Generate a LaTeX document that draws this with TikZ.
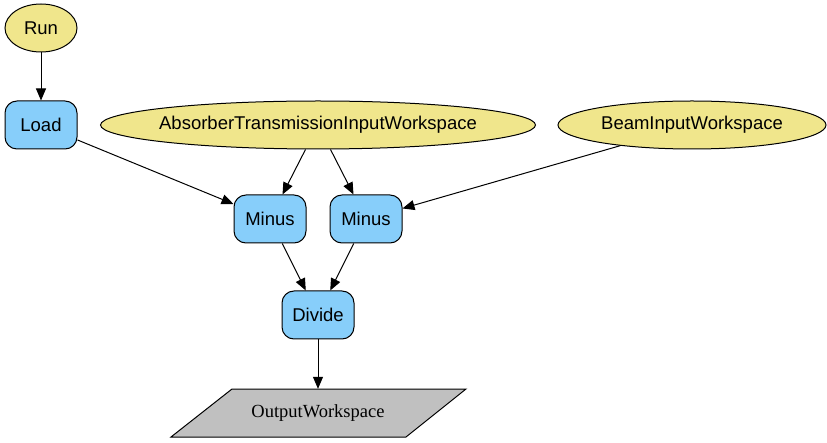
\documentclass[tikz,border=0pt]{standalone}
\usepackage{fontspec}
\setmainfont{Liberation Sans}
\newfontfamily\serifws{Liberation Serif}
\usetikzlibrary{arrows.meta, shapes.geometric}
\definecolor{khaki}{HTML}{F0E68C}
\definecolor{skyblue}{HTML}{87CEFA}
\definecolor{wsgray}{HTML}{C0C0C0}
\begin{document}
\begin{tikzpicture}[x=1pt,y=-1pt]
		\tikzstyle{every node} = [font = \fontsize{18.5}{21}\selectfont]
		\tikzstyle{prop} = [draw, line width=1pt, ellipse, fill=khaki, minimum height=48pt, inner sep=0pt]
		\tikzstyle{alg} = [draw, line width=1pt, rectangle, rounded corners=12pt, fill=skyblue, minimum width=72pt, minimum height=48pt, inner sep=0pt]
		\tikzstyle{edge} = [draw, line width=1pt, -{Triangle[length=12pt,width=10pt]}]
				\useasboundingbox (0,0) rectangle (827,443);
				\node[prop, minimum width=72pt] (run) at (41,28) {Run};
				\node[alg] (load) at (41,125) {Load};
				\node[prop, minimum width=435pt] (absorber) at (318,125) {\makebox[0pt]{AbsorberTransmissionInputWorkspace}};
				\node[prop, minimum width=268pt] (beam) at (692,125) {BeamInputWorkspace};
				\node[alg] (minusA) at (270,219) {Minus};
				\node[alg] (minusB) at (366,219) {Minus};
				\node[alg] (divide) at (318,315) {Divide};
				\path[draw, line width=1pt, fill=wsgray] (232,389)--
					(466,389)--
					(406,437)--
					(171,437)--cycle;
				\node[minimum width=120pt, minimum height=48pt, inner sep=0pt] (output) at (318,413) {\serifws OutputWorkspace};
				\path[edge] (run)--(load);
				\path[edge] (load)--(minusA);
				\path[edge] (absorber)--(minusA);
				\path[edge] (absorber)--(minusB);
				\path[edge] (beam)--(minusB);
				\path[edge] (minusA)--(divide);
				\path[edge] (minusB)--(divide);
				\path[edge] (divide)--(output);
	\end{tikzpicture}
\end{document}
